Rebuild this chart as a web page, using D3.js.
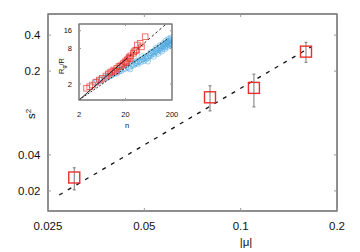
<!DOCTYPE html>
<html>
<head>
<meta charset="utf-8">
<script src="https://cdn.jsdelivr.net/npm/d3@7"></script>
<style>
body { margin: 0; background: #fff; }
text { font-family: "Liberation Sans", Arial, sans-serif; fill: #111; }
</style>
</head>
<body>
<div id="chart"></div>
<script>
// main panel data: s^2 against |mu|
var muX = [0.0302, 0.0802, 0.110, 0.160];
var s2 = [0.0259, 0.121, 0.145, 0.291];
var s2Lo = [0.0204, 0.0931, 0.1006, 0.237];
var s2Hi = [0.0312, 0.151, 0.189, 0.348];
var fitX = [0.0271, 0.167];
var fitY = [0.0185, 0.322];
var xTicks = [0.025, 0.05, 0.1, 0.2];
var yTicks = [0.02, 0.04, 0.2, 0.4];

// inset data: Rg/R against n
var redN = [2.9, 3.4, 3.9, 4.6, 5.5, 6.3, 7.6, 8.5, 10.1, 11.2, 13.0, 14.5, 16.6, 18.0, 19.6, 21.5, 22.5, 25.1, 26.0, 29.6, 30.5, 35.0, 36.0, 41.3, 44, 52.9, 9.3, 12.1, 15.5, 20.5, 24.0, 33.0];
var redR = [1.69, 1.80, 1.92, 2.15, 2.34, 2.50, 2.73, 2.95, 3.23, 3.45, 3.69, 3.95, 4.20, 4.45, 4.77, 5.0, 5.3, 5.45, 6.0, 6.63, 7.05, 7.53, 9.16, 9.78, 8.5, 12.66, 3.1, 3.3, 4.0, 4.6, 5.7, 7.4];
var blueN = [4.4, 5, 5.5, 6, 7, 8, 9, 10, 11, 12, 13, 14, 15, 16, 18, 20, 22, 24, 26, 28, 30, 32, 34, 36, 38, 40, 42, 45, 48, 50, 53, 56, 60, 63, 66, 70, 74, 78, 82, 86, 90, 95, 100, 105, 110, 115, 120, 125, 130, 135, 140, 145, 150, 155, 160, 165, 170, 175, 180, 185, 190,
    60, 80, 100, 120, 140, 160, 180, 70, 90, 110, 130, 150, 170, 190, 35, 45, 55, 25, 195, 200];
var blueR = [2.1, 2.2, 2.35, 2.3, 2.5, 2.6, 2.75, 2.8, 3.0, 3.1, 3.05, 3.3, 3.4, 3.35, 3.6, 3.7, 3.9, 3.8, 4.1, 4.3, 4.2, 4.5, 4.6, 4.4, 4.8, 5.0, 4.7, 5.2, 5.4, 5.0, 5.6, 5.8, 5.5, 6.0, 6.3, 6.1, 6.6, 6.9, 6.5, 7.1, 7.4, 7.0, 7.6, 8.0, 7.5, 8.3, 8.6, 8.0, 8.8, 9.2, 8.5, 9.5, 9.0, 9.9, 10.3, 9.4, 10.6, 9.8, 10.2, 11, 9.6,
    4.9, 5.9, 6.6, 7.2, 7.9, 8.6, 9.1, 6.8, 8.0, 8.9, 9.7, 10.8, 11.5, 12.0, 4.9, 5.8, 5.3, 3.6, 10.8, 9.2];
var upSolidN = [2, 20], upSolidR = [1.07, 5.2];
var upDashN = [20, 150], upDashR = [5.2, 20.8];
var lowN = [2, 166], lowR = [1.07, 11.8];
var inXTicks = [2, 20, 200];
var inYTicks = [2, 8, 16];

var W = 360, H = 252;
var svg = d3.select("#chart").append("svg")
    .attr("width", W)
    .attr("height", H);

// ---- main panel
var x = d3.scaleLog().domain([0.025, 0.2]).range([48, 337]);
var y = d3.scaleLog().domain([0.0136, 0.6]).range([211, 14]);

svg.append("rect")
    .attr("x", 48).attr("y", 14)
    .attr("width", 289).attr("height", 197)
    .attr("fill", "none")
    .attr("stroke", "#444")
    .attr("stroke-width", 1.2);

// ticks inside, on all four sides
xTicks.forEach(function (t) {
    svg.append("line").attr("x1", x(t)).attr("x2", x(t)).attr("y1", 211).attr("y2", 208).attr("stroke", "#999");
    svg.append("line").attr("x1", x(t)).attr("x2", x(t)).attr("y1", 14).attr("y2", 17).attr("stroke", "#999");
    svg.append("text").text(t)
        .attr("x", x(t)).attr("y", 229.5)
        .attr("text-anchor", "middle")
        .style("font-size", "11.5px");
});
yTicks.forEach(function (t) {
    svg.append("line").attr("x1", 48).attr("x2", 51).attr("y1", y(t)).attr("y2", y(t)).attr("stroke", "#999");
    svg.append("line").attr("x1", 337).attr("x2", 334).attr("y1", y(t)).attr("y2", y(t)).attr("stroke", "#999");
    svg.append("text").text(t)
        .attr("x", 40.5).attr("y", y(t) + 4)
        .attr("text-anchor", "end")
        .style("font-size", "11.5px");
});

svg.append("text")
    .attr("transform", "translate(35,114) rotate(-90)")
    .attr("text-anchor", "middle")
    .style("font-size", "11.5px")
    .html('s<tspan dy="-4" style="font-size:8px">2</tspan>');

svg.append("text").text("|\u03bc|")
    .attr("x", 246).attr("y", 246)
    .attr("text-anchor", "middle")
    .style("font-size", "11.5px");

// fitted power law
svg.append("path")
    .datum(d3.range(fitX.length))
    .attr("fill", "none")
    .attr("stroke", "#111")
    .attr("stroke-width", 1.3)
    .attr("stroke-dasharray", "4,6")
    .attr("d", d3.line().x(function (i) { return x(fitX[i]); }).y(function (i) { return y(fitY[i]); }));

// error bars
var pts = svg.append("g");
muX.forEach(function (m, i) {
    pts.append("line")
        .attr("x1", x(m)).attr("x2", x(m))
        .attr("y1", y(s2Lo[i])).attr("y2", y(s2Hi[i]))
        .attr("stroke", "#777").attr("stroke-width", 1);
    [s2Lo[i], s2Hi[i]].forEach(function (v) {
        pts.append("line")
            .attr("x1", x(m) - 1.5).attr("x2", x(m) + 1.5)
            .attr("y1", y(v)).attr("y2", y(v))
            .attr("stroke", "#777").attr("stroke-width", 1);
    });
    pts.append("rect")
        .attr("x", x(m) - 5.5).attr("y", y(s2[i]) - 5.5)
        .attr("width", 11).attr("height", 11)
        .attr("fill", "none")
        .attr("stroke", "#e8302a")
        .attr("stroke-width", 1.4);
});

// ---- inset
var ix = d3.scaleLog().domain([2, 200]).range([79, 172]);
var iy = d3.scaleLog().domain([1.07, 20.8]).range([100, 24]);

svg.append("rect")
    .attr("x", 79).attr("y", 24)
    .attr("width", 93).attr("height", 76)
    .attr("fill", "#fff");

svg.append("clipPath").attr("id", "inclip")
    .append("rect")
    .attr("x", 79).attr("y", 24)
    .attr("width", 93).attr("height", 76);

var gIn = svg.append("g").attr("clip-path", "url(#inclip)");

gIn.selectAll(".blue")
    .data(blueN)
    .enter()
    .append("circle")
    .attr("class", "blue")
    .attr("cx", function (d) { return ix(d); })
    .attr("cy", function (d, i) { return iy(blueR[i]); })
    .attr("r", 3)
    .attr("fill", "none")
    .attr("stroke", "#4aa8e0")
    .attr("stroke-opacity", 0.6)
    .attr("stroke-width", 0.9);

gIn.selectAll(".red")
    .data(redN)
    .enter()
    .append("rect")
    .attr("class", "red")
    .attr("x", function (d) { return ix(d) - 2.8; })
    .attr("y", function (d, i) { return iy(redR[i]) - 2.8; })
    .attr("width", 5.6).attr("height", 5.6)
    .attr("fill", "none")
    .attr("stroke", "#e8302a")
    .attr("stroke-opacity", 0.75)
    .attr("stroke-width", 0.9);

function inLine(ns, rs, dash) {
    gIn.append("path")
        .datum(d3.range(ns.length))
        .attr("fill", "none")
        .attr("stroke", "#111")
        .attr("stroke-width", 0.9)
        .attr("stroke-dasharray", dash)
        .attr("d", d3.line().x(function (i) { return ix(ns[i]); }).y(function (i) { return iy(rs[i]); }));
}
inLine(upSolidN, upSolidR, null);
inLine(upDashN, upDashR, "2.5,2.5");
inLine(lowN, lowR, "2,1.5");

svg.append("rect")
    .attr("x", 79).attr("y", 24)
    .attr("width", 93).attr("height", 76)
    .attr("fill", "none")
    .attr("stroke", "#333")
    .attr("stroke-width", 1);

inXTicks.forEach(function (t) {
    svg.append("line").attr("x1", ix(t)).attr("x2", ix(t)).attr("y1", 100).attr("y2", 98).attr("stroke", "#999");
    svg.append("line").attr("x1", ix(t)).attr("x2", ix(t)).attr("y1", 24).attr("y2", 26).attr("stroke", "#999");
    svg.append("text").text(t)
        .attr("x", ix(t)).attr("y", 117)
        .attr("text-anchor", "middle")
        .style("font-size", "7.5px");
});
inYTicks.forEach(function (t) {
    svg.append("line").attr("x1", 79).attr("x2", 81).attr("y1", iy(t)).attr("y2", iy(t)).attr("stroke", "#999");
    svg.append("line").attr("x1", 172).attr("x2", 170).attr("y1", iy(t)).attr("y2", iy(t)).attr("stroke", "#999");
    svg.append("text").text(t)
        .attr("x", 72).attr("y", iy(t) + 2.7)
        .attr("text-anchor", "end")
        .style("font-size", "7.5px");
});

svg.append("text").text("n")
    .attr("x", 127).attr("y", 128)
    .attr("text-anchor", "middle")
    .style("font-size", "7.5px");

svg.append("text")
    .attr("transform", "translate(63.5,66) rotate(-90)")
    .attr("text-anchor", "middle")
    .style("font-size", "7.5px")
    .html('R<tspan dy="2" style="font-size:5.5px">g</tspan><tspan dy="-2">/R</tspan>');
</script>
</body>
</html>
